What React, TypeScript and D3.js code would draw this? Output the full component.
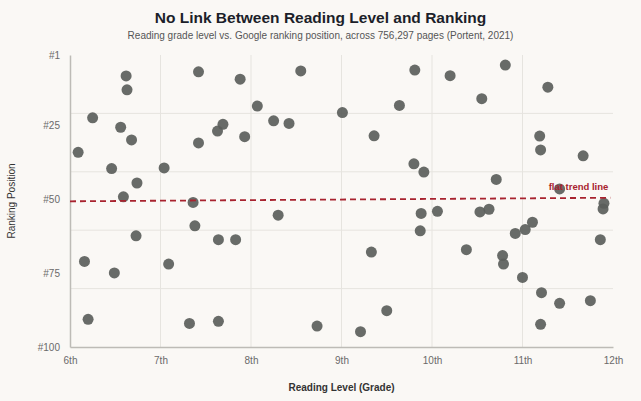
import { useRef, useEffect } from 'react';
import * as d3 from 'd3';

// reading grade level of each page
const grades = [
    6.62, 6.63, 6.25, 6.56, 6.68, 6.09, 6.46, 7.04, 6.74, 6.59,
    7.36, 7.42, 7.88, 8.07, 8.25, 8.42, 7.69, 7.63, 7.93, 7.42,
    8.55, 8.30, 7.38, 6.73, 7.64, 7.83, 6.16, 7.09, 6.49, 6.20,
    7.32, 7.64, 8.73, 9.81, 10.20, 10.81, 11.28, 10.55, 9.64, 9.01,
    9.36, 11.19, 11.20, 11.67, 9.80, 9.91, 10.71, 11.41, 11.90, 11.89,
    9.88, 10.06, 10.53, 10.63, 11.11, 11.03, 10.92, 9.87, 11.86, 9.33,
    10.38, 10.78, 10.79, 11.00, 11.21, 11.41, 11.75, 9.50, 9.21, 11.20
];
// google ranking position of each page
const ranks = [
    8.1, 12.8, 22.3, 25.5, 29.8, 34.0, 39.5, 39.3, 44.4, 49.1,
    51.0, 6.7, 9.2, 18.3, 23.3, 24.2, 24.5, 26.8, 28.7, 30.8,
    6.4, 55.3, 58.9, 62.3, 63.6, 63.6, 71.0, 71.9, 74.9, 90.6,
    92.0, 91.3, 92.9, 6.1, 8.0, 4.4, 11.9, 15.8, 18.1, 20.5,
    28.4, 28.5, 33.2, 35.2, 37.9, 40.7, 43.2, 46.4, 51.3, 53.2,
    54.7, 54.0, 54.2, 53.3, 57.7, 60.2, 61.5, 60.6, 63.6, 67.8,
    67.0, 69.0, 71.9, 76.4, 81.6, 85.2, 84.3, 87.7, 94.8, 92.3
];
const xTicks = [6, 7, 8, 9, 10, 11, 12];
const xTickLabels = ['6th', '7th', '8th', '9th', '10th', '11th', '12th'];
const yTicks = [1, 25, 50, 75, 100];
// trend line end points [grade, rank]
const trend = [[6, 50.6], [11.97, 49.4]];

const App = () => {
    const ref = useRef<SVGSVGElement>(null);

    useEffect(() => {
        document.body.style.margin = '0';
        const width = 641;
        const height = 401;
        const margin = ({top: 55, right: 28, bottom: 54, left: 70});
        const font = '"Liberation Sans", Arial, sans-serif';

        const svg = d3.select(ref.current);
        svg.selectAll('*').remove();
        svg.attr('width', width).attr('height', height).style('display', 'block');

        svg.append('rect').attr('width', width).attr('height', height).attr('fill', '#faf8f5');

        const x = d3.scaleLinear().domain([6, 12]).range([margin.left, width - margin.right]);
        const y = d3.scaleLinear().domain([1, 100]).range([margin.top, height - margin.bottom]);

        // grid
        const g = svg.append('g');
        g.selectAll('.vgrid').data(xTicks.slice(1, -1)).enter().append('line')
            .attr('x1', (d: any) => x(d)).attr('x2', (d: any) => x(d))
            .attr('y1', y(1)).attr('y2', y(100))
            .attr('stroke', '#e6e4df').attr('stroke-width', 1);
        // horizontal grid splits the range into 5 parts
        g.selectAll('.hgrid').data([1, 2, 3, 4]).enter().append('line')
            .attr('x1', x(6)).attr('x2', x(12))
            .attr('y1', (d: any) => y(1) + (y(100) - y(1)) * d / 5)
            .attr('y2', (d: any) => y(1) + (y(100) - y(1)) * d / 5)
            .attr('stroke', '#e6e4df').attr('stroke-width', 1);

        // axes
        const xAxis = svg.append('g')
            .attr('class', 'x-axis')
            .attr('transform', `translate(0, ${y(100)})`)
            .call(d3.axisBottom(x).tickValues(xTicks).tickFormat((d: any, i: number) => xTickLabels[i]).tickSize(0).tickPadding(10) as any);
        xAxis.select('.domain').attr('stroke', '#bdbbb6').attr('stroke-width', 1.5);

        const yAxis = svg.append('g')
            .attr('class', 'y-axis')
            .attr('transform', `translate(${x(6)}, 0)`)
            .call(d3.axisLeft(y).tickValues(yTicks).tickFormat((d: any) => `#${d}`).tickSize(0).tickPadding(10) as any);
        yAxis.select('.domain').attr('stroke', '#bdbbb6').attr('stroke-width', 1.5);

        svg.selectAll('.x-axis text, .y-axis text')
            .attr('fill', '#6a6a6a').style('font-family', font).style('font-size', '10px');

        // points
        svg.append('g').selectAll('circle').data(grades).enter().append('circle')
            .attr('cx', (d: any) => x(d))
            .attr('cy', (d: any, i: number) => y(ranks[i]))
            .attr('r', 5.5)
            .attr('fill', '#5b5e5b')
            .attr('opacity', 0.92);

        // trend line
        svg.append('path')
            .attr('d', d3.line().x((d: any) => x(d[0])).y((d: any) => y(d[1]))(trend as any))
            .attr('stroke', '#a8232f')
            .attr('stroke-width', 1.8)
            .attr('stroke-dasharray', '6,4')
            .attr('fill', 'none');

        svg.append('text')
            .attr('x', x(trend[1][0]) - 2).attr('y', y(trend[1][1]) - 8)
            .attr('text-anchor', 'end')
            .attr('fill', '#a8232f')
            .style('font-family', font).style('font-size', '9.5px').style('font-weight', 'bold')
            .text('flat trend line');

        // titles
        svg.append('text')
            .attr('x', width / 2).attr('y', 23)
            .attr('text-anchor', 'middle').attr('fill', '#1c1f2a')
            .style('font-family', font).style('font-size', '15.5px').style('font-weight', 'bold')
            .text('No Link Between Reading Level and Ranking');
        svg.append('text')
            .attr('x', width / 2).attr('y', 39)
            .attr('text-anchor', 'middle').attr('fill', '#555')
            .style('font-family', font).style('font-size', '10px')
            .text('Reading grade level vs. Google ranking position, across 756,297 pages (Portent, 2021)');

        svg.append('text')
            .attr('x', (x(6) + x(12)) / 2).attr('y', 391)
            .attr('text-anchor', 'middle').attr('fill', '#333')
            .style('font-family', font).style('font-size', '10px').style('font-weight', 'bold')
            .text('Reading Level (Grade)');
        svg.append('text')
            .attr('transform', `translate(15, ${(y(1) + y(100)) / 2}) rotate(-90)`)
            .attr('text-anchor', 'middle').attr('fill', '#333')
            .style('font-family', font).style('font-size', '10px')
            .text('Ranking Position');
    }, []);

    return (
        <div>
            <svg ref={ref}></svg>
        </div>
    );
};

export default App;
